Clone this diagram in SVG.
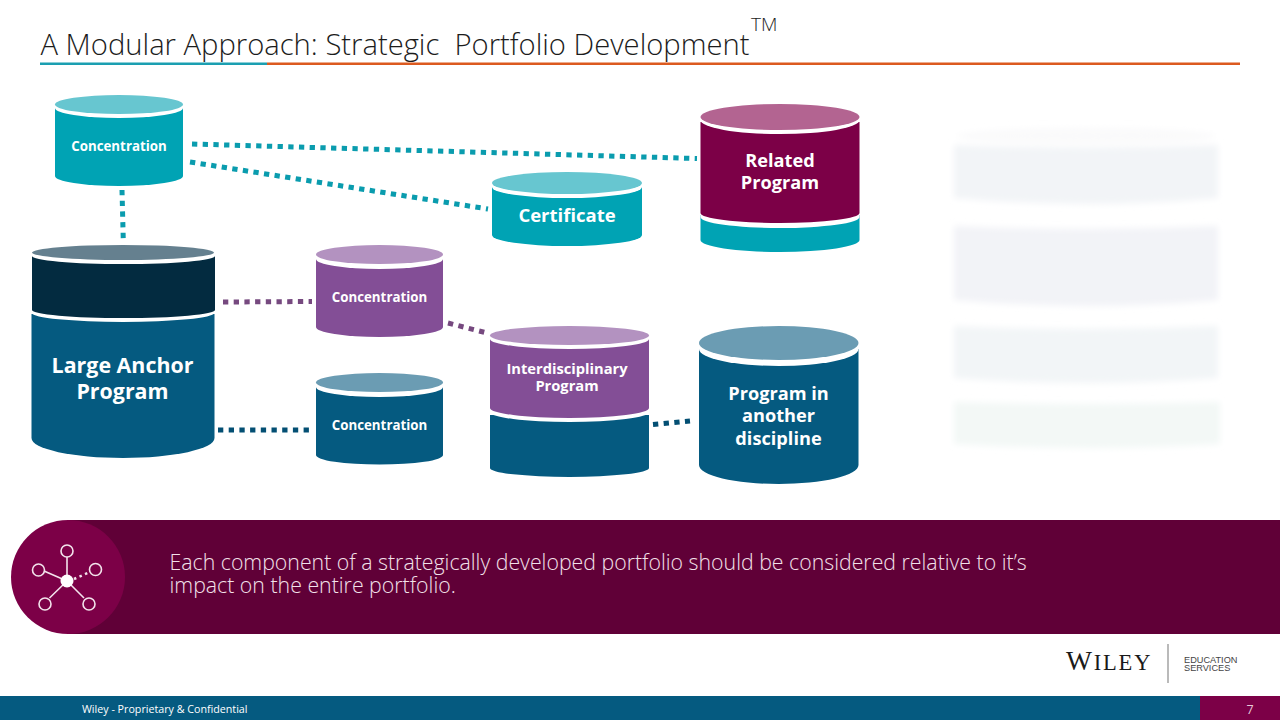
<svg xmlns="http://www.w3.org/2000/svg" width="1280" height="720" viewBox="0 0 1280 720">
<style>
text{font-family:"Open Sans","Liberation Sans",sans-serif}
.lbl{fill:#fff;font-weight:700;text-anchor:middle}
.dot{fill:none;stroke-width:5;stroke-dasharray:5.3 5.4}
.w{fill:#fff}
.ico{fill:none;stroke:#f3e3ec;stroke-width:1.6}
.ghost{filter:url(#blur)}
</style>
<defs><filter id="blur" x="-10%" y="-30%" width="120%" height="160%"><feGaussianBlur stdDeviation="3"/></filter></defs>
<rect width="1280" height="720" fill="#fff"/>
<g id="title">
<text x="40.500" y="55" font-size="29.200" font-weight="300" fill="#1c1c1c" xml:space="preserve">A Modular Approach: Strategic  Portfolio Development</text>
<text x="751" y="31" font-size="19" font-weight="300" fill="#1c1c1c">TM</text>
<rect x="40" y="62.500" width="227" height="2.500" fill="#1b9fb1"/>
<rect x="267" y="62.500" width="973" height="2.500" fill="#dc5a1f"/>
</g>
<g id="ghost" class="ghost">
<ellipse cx="1086" cy="136" rx="130" ry="8" fill="#fafafb"/>
<path fill="#f2f4f7" d="M954 145V198Q1086 210 1218 198V145Q1086 150 954 145Z"/>
<path fill="#f2f3f7" d="M954 226V300Q1086 312 1218 300V226Q1086 232 954 226Z"/>
<path fill="#f2f5f7" d="M954 326V378Q1086 388 1218 378V326Q1086 332 954 326Z"/>
<path fill="#f3f8f6" d="M954 402V444Q1086 452 1220 444V402Q1086 406 954 402Z"/>
</g>
<g id="connectors">
<path class="dot" stroke="#0a9cae" d="M192 144L697 158.500"/>
<path class="dot" stroke="#0a9cae" d="M190 162L488 209"/>
<path class="dot" stroke="#0a9cae" d="M122 190L123.300 241"/>
<path class="dot" stroke="#76497f" d="M223 302L312 301.500"/>
<path class="dot" stroke="#034f73" d="M218 430L312 430"/>
<path class="dot" stroke="#76497f" d="M448 323L487 333"/>
<path class="dot" stroke="#034f73" d="M653 424.500L690 421"/>
</g>
<g id="concentration-teal">
<path fill="#00a3b4" d="M55 108V176A64 10 0 0 0 183 176V108Z"/>
<ellipse class="w" cx="119" cy="108" rx="64" ry="10"/>
<ellipse fill="#67c6d0" cx="119" cy="104.500" rx="64" ry="9.500"/>
<text class="lbl" x="119" y="151" font-size="13.300">Concentration</text>
</g>
<g id="certificate">
<path fill="#00a3b4" d="M492 187V235A75 11 0 0 0 642 235V187Z"/>
<ellipse class="w" cx="567" cy="187" rx="75" ry="11"/>
<ellipse fill="#67c6d0" cx="567" cy="183" rx="75" ry="11"/>
<text class="lbl" x="567" y="222" font-size="18.500">Certificate</text>
</g>
<g id="related-program">
<path fill="#00a3b4" d="M700.500 215V240A79.500 12 0 0 0 859.500 240V215Z"/>
<path class="w" d="M700.500 214V217A79.500 11 0 0 0 859.500 217V214Z"/>
<path fill="#7c0047" d="M700.500 122V213A79.500 10 0 0 0 859.500 213V122Z"/>
<ellipse class="w" cx="780" cy="120" rx="79.500" ry="14"/>
<ellipse fill="#b36491" cx="780" cy="117" rx="79.500" ry="13"/>
<text class="lbl" x="780" y="166.500" font-size="18.200">Related</text>
<text class="lbl" x="780" y="189" font-size="18.200">Program</text>
</g>
<g id="large-anchor-program">
<path fill="#055a80" d="M31.500 314V438A91.500 20 0 0 0 214.500 438V314Z"/>
<path class="w" d="M32 309V313A91 9 0 0 0 214 313V309Z"/>
<path fill="#032b40" d="M32 256V310A91 8 0 0 0 215 310V256Z"/>
<ellipse class="w" cx="123.500" cy="256" rx="91.500" ry="8"/>
<ellipse fill="#65808f" cx="123" cy="252.500" rx="91" ry="7.500"/>
<text class="lbl" x="122.500" y="373" font-size="21.400">Large Anchor</text>
<text class="lbl" x="122.500" y="399" font-size="21.400">Program</text>
</g>
<g id="concentration-purple">
<path fill="#834e96" d="M316 259V327A63.500 10 0 0 0 443 327V259Z"/>
<ellipse class="w" cx="379.500" cy="259" rx="63.500" ry="10"/>
<ellipse fill="#b392c0" cx="379.500" cy="254.500" rx="63.500" ry="9.500"/>
<text class="lbl" x="379.500" y="302" font-size="13.300">Concentration</text>
</g>
<g id="concentration-blue">
<path fill="#055a80" d="M316 387V455A63.500 9.500 0 0 0 443 455V387Z"/>
<ellipse class="w" cx="379.500" cy="387" rx="63.500" ry="10"/>
<ellipse fill="#6b9cb3" cx="379.500" cy="382.500" rx="63.500" ry="9.500"/>
<text class="lbl" x="379.500" y="430" font-size="13.300">Concentration</text>
</g>
<g id="interdisciplinary-program">
<path fill="#055a80" d="M490 415V468A79.500 9 0 0 0 649 468V415Z"/>
<path class="w" d="M490 407V412A79.500 10 0 0 0 649 412V407Z"/>
<path fill="#834e96" d="M490 339V408A79.500 10 0 0 0 649 408V339Z"/>
<ellipse class="w" cx="569.500" cy="339" rx="79.500" ry="10"/>
<ellipse fill="#b392c0" cx="569.500" cy="335.500" rx="79.500" ry="9.500"/>
<text class="lbl" x="567" y="374" font-size="14.700">Interdisciplinary</text>
<text class="lbl" x="567" y="391" font-size="14.700">Program</text>
</g>
<g id="program-another-discipline">
<path fill="#055a80" d="M699 349V465A79.750 19 0 0 0 858.500 465V349Z"/>
<ellipse class="w" cx="778.750" cy="349" rx="79.750" ry="17"/>
<ellipse fill="#6b9cb3" cx="778.750" cy="343" rx="79.750" ry="17"/>
<text class="lbl" x="778.500" y="399.500" font-size="18.200">Program in</text>
<text class="lbl" x="778.500" y="422" font-size="18.200">another</text>
<text class="lbl" x="778.500" y="444.500" font-size="18.200">discipline</text>
</g>
<g id="banner">
<rect x="68" y="520" width="1212" height="114" fill="#600037"/>
<circle cx="68" cy="577" r="57" fill="#7c0047"/>
<g id="banner-icon">
<path class="ico" d="M67 557V581M67 581L44 571M67 581L49.500 598M67 581L84 598"/>
<path fill="none" stroke="#f3e3ec" stroke-width="2.500" stroke-dasharray="2.500 3.500" d="M74 579L90 572"/>
<circle cx="67" cy="581" r="6.500" fill="#fff"/>
<circle class="ico" cx="67" cy="551" r="6"/>
<circle class="ico" cx="38.500" cy="570" r="6"/>
<circle class="ico" cx="95.500" cy="569.500" r="6"/>
<circle class="ico" cx="45" cy="604" r="6"/>
<circle class="ico" cx="89" cy="604" r="6"/>
</g>
<text x="169.500" y="570" font-size="21.300" font-weight="300" fill="#f3e1ea">Each component of a strategically developed portfolio should be considered relative to it’s</text>
<text x="169.500" y="593" font-size="21.300" font-weight="300" fill="#f3e1ea">impact on the entire portfolio.</text>
</g>
<g id="logo">
<text x="1066" y="670" font-size="22.500" fill="#1a1a1a" letter-spacing="1.800" style="font-family:'Liberation Serif',serif"><tspan font-size="27.500">W</tspan>ILEY</text>
<rect x="1167.500" y="644" width="1" height="39" fill="#777"/>
<text x="1184" y="663" font-size="9.200" fill="#444" style="font-family:'Liberation Sans',sans-serif">EDUCATION</text>
<text x="1184" y="671" font-size="9.200" fill="#444" style="font-family:'Liberation Sans',sans-serif">SERVICES</text>
</g>
<g id="footer">
<rect y="696" width="1200" height="24" fill="#055a80"/>
<rect x="1200" y="696" width="80" height="24" fill="#7c0047"/>
<text x="82" y="713" font-size="10.700" fill="#fff">Wiley - Proprietary &amp; Confidential</text>
<text x="1250" y="714" font-size="12.500" fill="#e8c9d8" text-anchor="middle">7</text>
</g>
</svg>
